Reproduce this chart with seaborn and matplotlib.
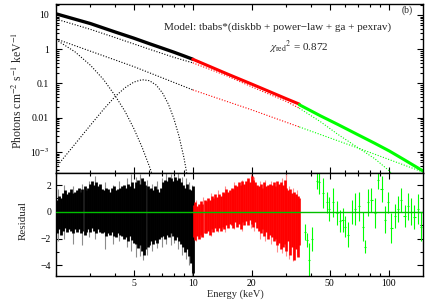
import numpy as np
import pandas as pd
import matplotlib
matplotlib.use('Agg')
import matplotlib.pyplot as plt
import matplotlib.ticker as mticker
import seaborn as sns

sns.set_style('ticks')
plt.rcParams['font.family'] = ['Liberation Serif', 'DejaVu Serif']
plt.rcParams['mathtext.fontset'] = 'stix'

RED = '#ff0000'
GRN = '#00ff00'

# ---- unfolded spectrum (top panel)
blk_e = [2.0, 3, 4, 5, 6, 7, 8, 9, 10]
blk_f = [10.8, 5.6, 3.2, 2.1, 1.45, 1.07, 0.82, 0.64, 0.51]
red_e = [10, 15, 20, 25, 30, 35]
red_f = [0.51, 0.19, 0.096, 0.056, 0.036, 0.025]
grn_e = [35, 45, 55, 69, 85, 101, 120, 150]
grn_f = [0.024, 0.0113, 0.0064, 0.0033, 0.0018, 0.00107, 0.0006, 0.00028]

# main continuum component (dotted, just under the data)
cmp_blk_e = [2.0, 3, 4, 6, 8, 10]
cmp_blk_f = [7.6, 3.8, 2.2, 1.0, 0.58, 0.40]
cmp_red_e = [10, 15, 20, 30, 35]
cmp_red_f = [0.40, 0.165, 0.080, 0.030, 0.019]
cmp_grn_e = [35, 45, 55, 69, 85, 101, 110]
cmp_grn_f = [0.019, 0.0076, 0.0033, 0.0014, 0.00064, 0.00028, 0.00016]

# power-law component
pl_blk_e = [2.0, 5, 10]
pl_blk_f = [2.0, 0.31, 0.065]
pl_red_e = [10, 20, 35]
pl_red_f = [0.065, 0.017, 0.0054]
pl_grn_e = [35, 70, 150]
pl_grn_f = [0.0054, 0.0013, 0.00026]

# disk blackbody
disk_e = [2.0, 2.5, 3, 3.5, 4, 4.5, 5, 5.5, 6, 6.5]
disk_f = [1.9, 0.84, 0.34, 0.13, 0.045, 0.0155, 0.0048, 0.0014, 0.00038, 0.0001]

# gaussian line
ga_e = [2.0, 2.5, 3, 3.5, 4, 4.5, 5, 5.5, 6, 6.5, 7, 7.5, 8, 8.5, 9, 9.5]
ga_f = [0.00036, 0.0017, 0.0061, 0.0176, 0.041, 0.075, 0.110, 0.129, 0.121,
        0.090, 0.053, 0.025, 0.0095, 0.0029, 0.0007, 0.00013]

# ---- residuals (bottom panel)
res_blk_e = [2.02, 2.07, 2.12, 2.17, 2.22, 2.27, 2.32, 2.38, 2.43, 2.49,
             2.55, 2.61, 2.67, 2.73, 2.80, 2.86, 2.93, 3.00, 3.07, 3.14,
             3.21, 3.29, 3.37, 3.44, 3.52, 3.61, 3.69, 3.78, 3.87, 3.96,
             4.05, 4.14, 4.24, 4.34, 4.44, 4.55, 4.65, 4.76, 4.87, 4.99,
             5.10, 5.22, 5.35, 5.47, 5.60, 5.73, 5.87, 6.00, 6.14, 6.29,
             6.43, 6.58, 6.74, 6.90, 7.06, 7.22, 7.39, 7.57, 7.74, 7.92,
             8.11, 8.30, 8.49, 8.69, 8.90, 9.11, 9.32, 9.54, 9.76, 9.97]
res_blk_hi = [0.9, 1.2, 1.0, 1.4, 1.6, 1.3, 1.5, 1.7, 1.4, 1.5,
              1.6, 1.8, 1.5, 1.7, 1.9, 1.6, 1.8, 2.1, 2.3, 2.0,
              2.2, 1.9, 2.1, 1.7, 1.6, 1.8, 1.7, 1.5, 1.8, 1.9,
              1.6, 1.7, 1.8, 1.9, 2.0, 1.8, 2.1, 1.9, 2.2, 1.8,
              2.2, 2.4, 2.1, 2.5, 2.3, 2.0, 1.9, 1.7, 1.8, 1.6,
              1.9, 1.7, 1.5, 1.8, 2.2, 2.4, 2.3, 2.6, 2.5, 2.3,
              2.6, 2.4, 2.5, 2.2, 2.0, 1.8, 2.1, 1.7, 1.6, 1.9]
res_blk_lo = [-1.6, -1.3, -1.7, -1.4, -1.2, -1.5, -1.3, -1.4, -1.6, -1.3,
              -1.5, -1.3, -1.6, -1.4, -1.7, -1.5, -1.3, -1.5, -1.2, -1.4,
              -1.6, -1.3, -1.5, -1.6, -1.5, -1.8, -1.6, -1.7, -1.5, -1.8,
              -1.9, -1.6, -1.7, -1.8, -2.0, -1.9, -2.2, -1.8, -2.1, -2.3,
              -2.4, -2.7, -2.5, -2.9, -3.2, -2.8, -2.6, -2.5, -2.2, -2.4,
              -2.1, -2.3, -2.0, -1.9, -1.8, -2.0, -1.7, -1.9, -1.6, -1.8,
              -2.1, -1.9, -2.2, -2.4, -2.6, -3.0, -2.8, -3.3, -3.8, -4.6]
spk_blk_e = [2.05, 2.2, 2.45, 2.7, 2.95, 3.15, 3.55, 3.9, 4.2, 4.6, 4.85, 5.15, 5.4,
             5.55, 5.8, 6.2, 6.6, 7.0, 7.3, 7.7, 8.0, 8.4, 8.8, 9.2, 9.6, 9.85]
spk_blk_hi = [1.7, 2.0, 1.9, 2.1, 2.3, 2.7, 2.2, 2.0, 2.3, 2.5, 2.8, 2.6, 2.8,
              2.5, 2.4, 2.1, 2.3, 2.5, 2.9, 2.8, 2.7, 2.9, 2.6, 2.5, 2.2, 2.0]
spk_blk_lo = [-2.2, -2.0, -2.4, -2.5, -1.9, -2.0, -2.8, -2.4, -2.2, -2.6, -2.9, -3.4, -3.3,
              -3.6, -3.2, -2.9, -2.7, -2.6, -2.4, -2.5, -2.3, -2.8, -3.2, -3.5, -4.0, -4.8]

res_red_e = [10.1, 10.3, 10.5, 10.8, 11.0, 11.2, 11.5, 11.7, 12.0, 12.2,
             12.5, 12.7, 13.0, 13.3, 13.6, 13.9, 14.2, 14.5, 14.8, 15.1,
             15.4, 15.8, 16.1, 16.5, 16.8, 17.2, 17.6, 17.9, 18.3, 18.7,
             19.1, 19.6, 20.0, 20.4, 20.9, 21.3, 21.8, 22.3, 22.7, 23.2,
             23.7, 24.3, 24.8, 25.3, 25.9, 26.4, 27.0, 27.6, 28.2, 28.8,
             29.5, 30.1, 30.8, 31.4, 32.1, 32.8, 33.5, 34.3, 35.0]
res_red_hi = [0.5, 0.7, 0.4, 0.6, 0.8, 0.6, 0.9, 0.8, 1.0, 0.9,
              1.2, 1.0, 1.3, 1.1, 1.3, 1.2, 1.5, 1.4, 1.7, 1.5,
              1.6, 1.8, 1.7, 2.0, 1.9, 2.2, 2.0, 2.3, 2.1, 2.3,
              2.5, 2.2, 2.7, 2.4, 2.2, 2.0, 1.9, 2.1, 1.8, 2.2,
              1.9, 2.0, 2.1, 2.0, 2.2, 1.9, 2.3, 2.1, 2.2, 2.0,
              2.4, 1.8, 1.6, 1.7, 1.4, 1.5, 1.3, 1.2, 1.0]
res_red_lo = [-1.9, -2.1, -1.8, -2.0, -1.7, -1.9, -1.6, -1.6, -1.4, -1.7,
              -1.3, -1.5, -1.2, -1.4, -1.2, -1.4, -1.1, -1.3, -1.0, -1.2,
              -0.9, -1.0, -1.2, -0.8, -1.1, -0.9, -1.3, -0.8, -1.0, -0.7,
              -1.0, -0.6, -0.9, -1.1, -0.8, -1.2, -1.4, -1.6, -1.3, -1.8,
              -1.5, -2.0, -1.7, -1.9, -2.2, -2.0, -2.5, -2.3, -2.8, -2.6,
              -2.4, -2.9, -2.2, -3.2, -2.6, -3.6, -2.8, -3.4, -2.5]
spk_red_e = [10.4, 11.3, 12.4, 13.5, 14.6, 16.3, 17.8, 19.8, 20.6, 22.0,
             23.5, 25.0, 26.8, 28.5, 29.9, 31.0, 32.5, 34.0]
spk_red_hi = [0.9, 1.1, 1.4, 1.6, 1.9, 2.2, 2.4, 2.8, 2.6, 2.3,
              2.4, 2.3, 2.2, 2.5, 2.8, 1.9, 1.8, 1.6]
spk_red_lo = [-2.2, -1.9, -1.8, -1.5, -1.5, -1.3, -1.4, -1.2, -1.4, -2.0,
              -2.2, -2.4, -3.0, -3.1, -3.3, -3.5, -3.7, -3.2]

res_grn_e = [37.3, 38.2, 39.1, 40.5, 43.0, 44.0, 46.1, 48.3, 49.7, 52.1,
             54.3, 56.4, 58.2, 60.1, 62.3, 64.7, 67.3, 70.8, 74.3, 75.8,
             78.7, 81.8, 85.3, 88.6, 92.2, 95.8, 99.5, 103.5, 107.6, 111.7,
             116.2, 120.8, 125.6, 130.6, 135.7, 141.0, 146.6]
res_grn = [-1.5, -2.1, -3.6, -2.0, 2.3, 2.2, 1.4, 0.7, 0.2, 0.7,
           -0.1, -0.7, -0.6, -1.1, -1.7, 0.0, 0.2, 0.4, -1.1, -2.6,
           0.7, 0.9, -0.1, 2.4, 1.7, -0.6, 0.7, -1.2, -0.3, 0.2,
           0.9, -0.3, 0.4, 0.0, -0.4, 0.2, -1.1]
res_grn_err = [0.6, 0.5, 1.3, 0.9, 0.6, 0.9, 1.1, 0.8, 0.9, 1.1,
               0.9, 0.8, 0.9, 0.8, 0.9, 0.9, 1.2, 1.1, 1.1, 0.5,
               1.0, 0.9, 1.1, 0.7, 1.0, 1.0, 0.8, 1.1, 0.9, 1.0,
               0.9, 0.8, 1.0, 1.0, 0.9, 1.1, 1.1]
res_grn_xerr = [0.4, 0.4, 0.4, 0.5, 0.5, 0.5, 0.6, 0.6, 0.6, 0.7,
                0.7, 0.7, 0.8, 0.8, 0.8, 0.9, 0.9, 1.0, 1.0, 1.0,
                1.1, 1.1, 1.2, 1.2, 1.3, 1.3, 1.4, 1.4, 1.5, 1.5,
                1.6, 1.6, 1.7, 1.7, 1.8, 1.8, 1.9]

fig = plt.figure(figsize=(4.47, 3.0), dpi=100)
ax1 = fig.add_axes([0.1253, 0.4233, 0.8210, 0.5634])
ax2 = fig.add_axes([0.1253, 0.08, 0.8210, 0.3433], sharex=ax1)
ax1.set_xscale('log')
ax1.set_yscale('log')

dot = (0, (1, 1.5))


def line(ax, e, f, color, lw, ls='-'):
    sns.lineplot(x=e, y=f, ax=ax, color=color, lw=lw, linestyle=ls,
                 estimator=None, sort=False, legend=False)


# model components
line(ax1, disk_e, disk_f, 'black', 0.8, dot)
line(ax1, ga_e, ga_f, 'black', 0.8, dot)
line(ax1, pl_blk_e, pl_blk_f, 'black', 0.8, dot)
line(ax1, pl_red_e, pl_red_f, RED, 0.8, dot)
line(ax1, pl_grn_e, pl_grn_f, GRN, 0.8, dot)
line(ax1, cmp_blk_e, cmp_blk_f, 'black', 0.8, dot)
line(ax1, cmp_red_e, cmp_red_f, RED, 0.8, dot)
line(ax1, cmp_grn_e, cmp_grn_f, GRN, 0.8, dot)
# data
line(ax1, blk_e, blk_f, 'black', 2.4)
line(ax1, red_e, red_f, RED, 2.2)
line(ax1, grn_e, grn_f, GRN, 2.2)

ax1.set_xlim(2, 150)
ax1.set_ylim(2.44e-4, 20.9)
ax1.yaxis.set_major_locator(mticker.FixedLocator([1e-3, 1e-2, 0.1, 1, 10]))
ax1.yaxis.set_major_formatter(mticker.FixedFormatter(['10$^{-3}$', '0.01', '0.1', '1', '10']))
ax1.yaxis.set_minor_locator(mticker.LogLocator(base=10, subs=np.arange(2, 10)))
ax1.yaxis.set_minor_formatter(mticker.NullFormatter())
ax1.set_ylabel('Photons cm$^{-2}$ s$^{-1}$ keV$^{-1}$', fontsize=8.5)
ax1.yaxis.set_label_coords(-0.085, 0.49)

# residuals
ax2.vlines(spk_blk_e, spk_blk_lo, spk_blk_hi, color='#8c8c8c', lw=0.8)
ax2.vlines(res_blk_e, res_blk_lo, res_blk_hi, color='black', lw=2.0)
ax2.vlines(spk_red_e, spk_red_lo, spk_red_hi, color='#ff8c8c', lw=0.8)
ax2.vlines(res_red_e, res_red_lo, res_red_hi, color=RED, lw=1.9)
ax2.errorbar(res_grn_e, res_grn, yerr=res_grn_err, xerr=res_grn_xerr,
             fmt='none', ecolor=GRN, elinewidth=0.8, capsize=0)
ax2.axhline(0, color='#00c000', lw=1.0, zorder=5)
ax2.set_ylim(-4.8, 2.9)
ax2.yaxis.set_major_locator(mticker.FixedLocator([-4, -2, 0, 2]))
ax2.yaxis.set_minor_locator(mticker.FixedLocator([-3, -1, 1]))
ax2.set_ylabel('Residual', fontsize=8)
ax2.yaxis.set_label_coords(-0.076, 0.54)

ax2.xaxis.set_major_locator(mticker.FixedLocator([5, 10, 20, 50, 100]))
ax2.xaxis.set_major_formatter(mticker.FixedFormatter(['5', '10', '20', '50', '100']))
ax2.xaxis.set_minor_locator(mticker.FixedLocator([2, 3, 4, 6, 7, 8, 9, 30, 40, 60, 70, 80, 90]))
ax2.xaxis.set_minor_formatter(mticker.NullFormatter())
ax2.set_xlabel('Energy (keV)', fontsize=7.5)
ax2.xaxis.set_label_coords(0.49, -0.13)

for ax in (ax1, ax2):
    ax.tick_params(which='both', direction='in', top=True, right=True,
                   labelsize=7, width=0.8, colors='black')
    ax.tick_params(which='major', length=4)
    ax.tick_params(which='minor', length=2)
    for s in ax.spines.values():
        s.set_linewidth(1.0)
        s.set_color('black')
ax1.tick_params(axis='y', pad=5)
ax2.tick_params(axis='y', pad=3.5)
ax2.tick_params(axis='x', pad=2.5)
ax1.tick_params(labelbottom=False)

fig.text(0.622, 0.91, 'Model: tbabs*(diskbb + power\u2212law + ga + pexrav)',
         fontsize=8, ha='center', va='center')
fig.text(0.667, 0.843, r'$\chi_{\rm red}$$^{2}$ = 0.872', fontsize=8,
         ha='center', va='center')
fig.text(0.9105, 0.967, '(b)', fontsize=7, ha='center', va='center')

fig.savefig('out.png', dpi=100)
